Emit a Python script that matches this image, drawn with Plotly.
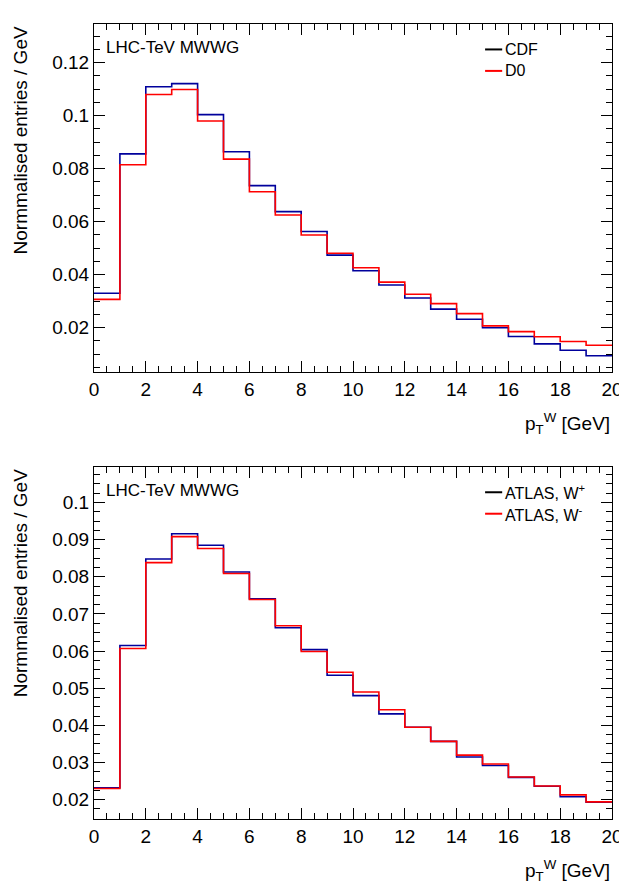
import plotly.graph_objects as go

edges = list(range(0, 21))

cdf = [0.0330, 0.0856, 0.1109, 0.1121, 0.1004, 0.0864, 0.0736, 0.0638, 0.0563, 0.0474,
       0.0415, 0.0361, 0.0312, 0.0270, 0.0232, 0.0200, 0.0167, 0.0139, 0.0115, 0.0094]
d0 = [0.0307, 0.0815, 0.1080, 0.1099, 0.0980, 0.0836, 0.0713, 0.0625, 0.0550, 0.0481,
      0.0426, 0.0372, 0.0326, 0.0291, 0.0253, 0.0207, 0.0185, 0.0166, 0.0148, 0.0134]
wplus = [0.0232, 0.0615, 0.0848, 0.0916, 0.0885, 0.0813, 0.0741, 0.0663, 0.0604, 0.0535,
         0.0480, 0.0431, 0.0395, 0.0357, 0.0315, 0.0292, 0.0260, 0.0236, 0.0208, 0.0193]
wminus = [0.0230, 0.0607, 0.0838, 0.0908, 0.0876, 0.0809, 0.0739, 0.0668, 0.0599, 0.0543,
          0.0490, 0.0442, 0.0395, 0.0357, 0.0320, 0.0296, 0.0261, 0.0237, 0.0213, 0.0194]

BLUE = "#00009c"
RED = "#ff0000"
FONT = "Liberation Sans"

fig = go.Figure()

def step(vals, color, xa, ya):
    fig.add_trace(go.Scatter(x=edges, y=vals + [vals[-1]], mode="lines",
                             line=dict(color=color, width=1.6, shape="hv"),
                             xaxis=xa, yaxis=ya, showlegend=False))

step(cdf, BLUE, "x", "y")
step(d0, RED, "x", "y")
step(wplus, BLUE, "x2", "y2")
step(wminus, RED, "x2", "y2")

axis_common = dict(showgrid=False, zeroline=False, showline=True, linecolor="black",
                   linewidth=1, mirror="allticks", ticks="inside", ticklen=11,
                   tickcolor="black", tickfont=dict(size=19, family=FONT, color="black"))

xcommon = dict(axis_common, range=[0, 20], dtick=2, tick0=0,
               minor=dict(ticks="inside", ticklen=6, dtick=0.5, tickcolor="black"))
fig.update_layout(
    xaxis=dict(xcommon, domain=[0, 1], anchor="y"),
    xaxis2=dict(xcommon, domain=[0, 1], anchor="y2"),
    yaxis=dict(axis_common, domain=[0.562, 1.0], anchor="x", range=[0.0032, 0.1346],
               dtick=0.02, tick0=0, minor=dict(ticks="inside", ticklen=6, dtick=0.005, tickcolor="black")),
    yaxis2=dict(axis_common, domain=[0.0, 0.443], anchor="x2", range=[0.0148, 0.1096],
                dtick=0.01, tick0=0,
                minor=dict(ticks="inside", ticklen=6, dtick=0.0025, tickcolor="black")),
    width=627, height=885,
    margin=dict(l=86, r=12, t=16, b=74),
    plot_bgcolor="white", paper_bgcolor="white",
    font=dict(family=FONT, color="black"),
)
fig.update_yaxes(tickformat="~g")

ann = []
for top, bottom in [(1.0, 0.562), (0.443, 0.0)]:
    ann.append(dict(text="Normmalised entries / GeV", xref="paper", yref="paper",
                    x=-0.142, y=top, textangle=-90, xanchor="center", yanchor="top",
                    showarrow=False, font=dict(size=19, family=FONT)))
    ann.append(dict(text="p<sub>T</sub><sup>W</sup> [GeV]", xref="paper", yref="paper",
                    x=1.0, y=bottom - 0.045, xanchor="right", yanchor="top",
                    showarrow=False, font=dict(size=19, family=FONT)))
    ann.append(dict(text="LHC-TeV MWWG", xref="paper", yref="paper",
                    x=0.02, y=top - 0.015, xanchor="left", yanchor="top",
                    showarrow=False, font=dict(size=17, family=FONT)))

legends = [(1.0, "CDF", "D0"), (0.443, "ATLAS, W<sup>+</sup>", "ATLAS, W<sup>-</sup>")]
shapes = []
for top, l1, l2 in legends:
    for i, (lab, col) in enumerate([(l1, "black"), (l2, RED)]):
        yy = top - 0.032 - i * 0.027
        ann.append(dict(text=lab, xref="paper", yref="paper", x=0.79, y=yy,
                        xanchor="left", yanchor="middle", showarrow=False,
                        font=dict(size=16, family=FONT)))
        shapes.append(dict(type="line", xref="paper", yref="paper", x0=0.755, x1=0.788,
                           y0=yy, y1=yy, line=dict(color=col, width=2)))

fig.update_layout(annotations=ann, shapes=shapes)
fig.write_html("out.html")
